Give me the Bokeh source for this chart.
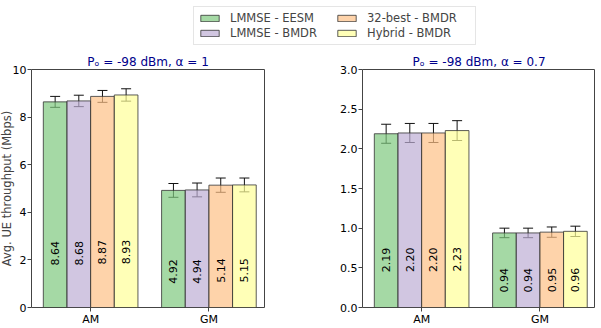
import numpy as np
from bokeh.plotting import figure
from bokeh.models import Legend, LegendItem, ColumnDataSource, Whisker, Range1d, FixedTicker
from bokeh.layouts import column, row
from bokeh.embed import file_html
from bokeh.resources import INLINE
from bokeh.core.properties import value

categories = ["AM", "GM"]
series = ["LMMSE - EESM", "LMMSE - BMDR", "32-best - BMDR", "Hybrid - BMDR"]
colors = ["#7fc97f", "#beaed4", "#fdc086", "#ffff99"]

# panel 1: Po = -98 dBm, alpha = 1
vals1 = [[8.64, 4.92], [8.68, 4.94], [8.87, 5.14], [8.93, 5.15]]
err1 = [[0.23, 0.29], [0.24, 0.29], [0.25, 0.30], [0.26, 0.29]]
yticks1 = [0, 2, 4, 6, 8, 10]
# panel 2: Po = -98 dBm, alpha = 0.7
vals2 = [[2.19, 0.94], [2.20, 0.94], [2.20, 0.95], [2.23, 0.96]]
err2 = [[0.12, 0.06], [0.12, 0.06], [0.12, 0.065], [0.125, 0.065]]
yticks2 = [0.0, 0.5, 1.0, 1.5, 2.0, 2.5, 3.0]

title1 = "Pₒ = -98 dBm, α = 1"
title2 = "Pₒ = -98 dBm, α = 0.7"
ylabel = "Avg. UE throughput (Mbps)"

FONT = "DejaVu Sans"
BW = 0.2
FH = 238


def make_panel(vals, errs, ymax, yticks, tickfmt, title, with_label, mbl, mbr):
    p = figure(frame_width=233, frame_height=FH, x_range=Range1d(-0.5, 1.47),
               y_range=Range1d(0, ymax), output_backend="svg", toolbar_location=None,
               min_border_left=mbl, min_border_right=mbr, min_border_top=0, min_border_bottom=0)
    p.grid.visible = False
    p.outline_line_color = "#444444"
    p.outline_line_alpha = 1
    half_text = 12 * ymax / FH
    for i, (name, c) in enumerate(zip(series, colors)):
        xs = [k + (i - 1.5) * BW for k in range(len(categories))]
        top = vals[i]
        e = errs[i]
        src = ColumnDataSource(dict(x=xs, top=top,
                                    lo=[t - d for t, d in zip(top, e)],
                                    hi=[t + d for t, d in zip(top, e)],
                                    ty=[t * 0.205 + half_text for t in top],
                                    lab=["%.2f" % t for t in top]))
        p.vbar(x="x", top="top", width=BW, bottom=0, source=src, fill_color=c,
               fill_alpha=0.7, line_color="#333333", line_alpha=0.8, line_width=1)
        w = Whisker(base="x", lower="lo", upper="hi", source=src, line_color="#111111",
                    line_width=1)
        for h in (w.upper_head, w.lower_head):
            h.size = 10
            h.line_color = "#111111"
        p.add_layout(w)
        p.text(x="x", y="ty", text="lab", source=src, angle=np.pi / 2,
               text_align="center", text_baseline="middle", text_font=value(FONT),
               text_font_size="11px", text_color="black")
    p.xaxis.ticker = FixedTicker(ticks=[0, 1])
    p.xaxis.major_label_overrides = {0: "AM", 1: "GM"}
    p.yaxis.ticker = FixedTicker(ticks=yticks)
    p.yaxis.major_label_overrides = {t: tickfmt % t for t in yticks}
    for ax in [p.xaxis[0], p.yaxis[0]]:
        ax.major_label_text_font = FONT
        ax.major_label_text_font_size = "11px"
        ax.major_label_text_color = "black"
        ax.axis_line_color = None
        ax.major_tick_line_color = "#444444"
        ax.major_tick_out = 4
        ax.major_tick_in = 0
        ax.minor_tick_line_color = None
        ax.major_label_standoff = 1
    if with_label:
        p.yaxis.axis_label = ylabel
        p.yaxis.axis_label_text_font = FONT
        p.yaxis.axis_label_text_font_size = "11.5px"
        p.yaxis.axis_label_text_font_style = "normal"
        p.yaxis.axis_label_standoff = -4
    p.title.text = title
    p.title.align = "center"
    p.title.text_color = "#00008b"
    p.title.text_font = FONT
    p.title.text_font_size = "12px"
    p.title.text_font_style = "normal"
    p.title.standoff = 1
    return p


p1 = make_panel(vals1, err1, 10, yticks1, "%d", title1, True, 31, 64)
p2 = make_panel(vals2, err2, 3.0, yticks2, "%.1f", title2, False, 34, 0)

# legend figure (no axes)
lf = figure(width=590, height=56, output_backend="svg", toolbar_location=None,
            x_range=Range1d(0, 1), y_range=Range1d(0, 1), min_border=0,
            x_axis_location=None, y_axis_location=None)
lf.grid.visible = False
lf.outline_line_color = None
lf.title.visible = False
items = []
for i in range(len(series)):
    r = lf.vbar(x=[-5], top=[-5], width=0.1, fill_color=colors[i], fill_alpha=0.7,
                line_color="#333333", line_alpha=0.8)
    items.append(LegendItem(label=series[i], renderers=[r]))
leg = Legend(items=items, ncols=2, location=(197, 7), label_text_font=FONT,
             label_text_font_size="11.5px", glyph_width=23, glyph_height=8,
             label_standoff=9, spacing=1, padding=4, margin=0, label_width=104,
             label_height=13, border_line_color="#cccccc", background_fill_alpha=1)
lf.add_layout(leg, "center")

layout = column(lf, row(p1, p2, spacing=0), spacing=0,
                styles={"margin-left": "-4px", "margin-top": "-4px"})
open("out.html", "w").write(file_html(layout, INLINE))
